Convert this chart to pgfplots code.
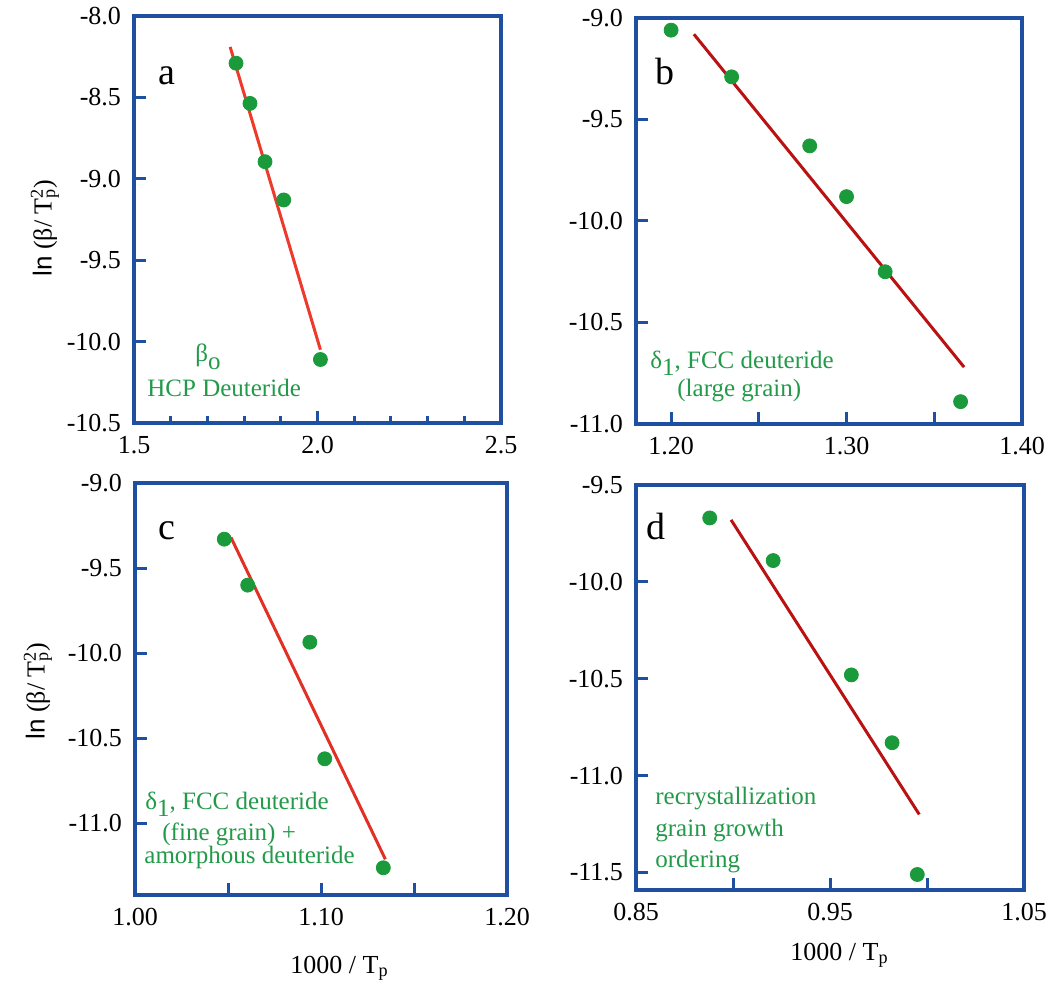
\documentclass[border=0pt]{standalone}
\usepackage{pgfplots}
\pgfplotsset{compat=1.18}
\usepackage{fontspec}
\setmainfont{Liberation Serif}
\setsansfont{Liberation Sans}
\definecolor{boxblue}{HTML}{1F4FA0}
\definecolor{dotgreen}{HTML}{1A9A3A}
\definecolor{redA}{HTML}{EE3A2A}
\definecolor{redB}{HTML}{BA1212}
\definecolor{txtgreen}{HTML}{23994A}
\pgfplotsset{every tick/.append style={boxblue, line width=1.5pt},
  every major tick/.append style={boxblue, line width=1.5pt},
  every minor tick/.append style={boxblue, line width=1.5pt}}
\pgfplotsset{panel/.style={scale only axis, anchor=south west, clip=false,
  axis line style={draw=boxblue, line width=2pt},
  xtick pos=bottom, ytick pos=left, xtick align=inside, ytick align=inside,
  major tick length=6pt, minor tick length=3.5pt,
  xtick style={boxblue, line width=1.5pt},
  ytick style={boxblue, line width=1.5pt},
  minor tick style={boxblue, line width=1.5pt},
  ticklabel style={font=\fontsize{13}{15}\selectfont},
  xticklabel style={yshift=-3pt}, yticklabel style={xshift=-3pt}},
  dots/.style={only marks, mark=*, mark size=3.5pt, color=dotgreen},
  fitA/.style={no marks, color=redA, line width=1.5pt},
  fitB/.style={no marks, color=redB, line width=1.5pt}}
\newcommand{\gt}{\fontsize{12.5}{14}\selectfont\color{txtgreen}}
\newcommand{\lt}{\fontsize{19}{21}\selectfont}
\newcommand{\ylab}{{\sffamily ln} (β/ T\rlap{\textsuperscript{2}}\textsubscript{p})}
\begin{document}
\begin{tikzpicture}
\path (0pt,0pt) rectangle (529pt,492pt);
% panel a
\begin{axis}[panel, at={(67pt,280.5pt)}, width=183.5pt, height=203.5pt,
  xmin=1.5, xmax=2.5, ymin=-10.5, ymax=-8.0,
  xtick={1.5,2.0,2.5}, xticklabels={1.5,2.0,2.5},
  minor xtick={1.6,1.7,1.8,1.9,2.1,2.2,2.3,2.4},
  ytick={-10.5,-10,-9.5,-9,-8.5,-8}, yticklabels={-10.5,-10.0,-9.5,-9.0,-8.5,-8.0}]
\addplot[fitA] coordinates {(1.762,-8.19) (2.008,-10.05)};
\addplot[dots] coordinates {(1.778,-8.29) (1.816,-8.537) (1.857,-8.895) (1.908,-9.13) (2.008,-10.11)};
\end{axis}
% panel b
\begin{axis}[panel, at={(318pt,280pt)}, width=193pt, height=203pt,
  xmin=1.18, xmax=1.40, ymin=-11.0, ymax=-9.0,
  xtick={1.2,1.25,1.3,1.35,1.4}, xticklabels={1.20,,1.30,,1.40},
  ytick={-11,-10.5,-10,-9.5,-9}, yticklabels={-11.0,-10.5,-10.0,-9.5,-9.0}]
\addplot[fitB] coordinates {(1.213,-9.08) (1.367,-10.72)};
\addplot[dots] coordinates {(1.20,-9.06) (1.2345,-9.29) (1.279,-9.63) (1.30,-9.88) (1.322,-10.25) (1.365,-10.89)};
\end{axis}
% panel c
\begin{axis}[panel, at={(67.5pt,44.5pt)}, width=186pt, height=206pt,
  xmin=1.0, xmax=1.2, ymin=-11.42, ymax=-9.0,
  xtick={1.0,1.05,1.1,1.15,1.2}, xticklabels={1.00,,1.10,,1.20},
  ytick={-11,-10.5,-10,-9.5,-9}, yticklabels={-11.0,-10.5,-10.0,-9.5,-9.0}]
\addplot[fitB, color=redA!75!redB] coordinates {(1.0516,-9.32) (1.1346,-11.21)};
\addplot[dots] coordinates {(1.048,-9.33) (1.0606,-9.60) (1.094,-9.935) (1.102,-10.62) (1.1335,-11.26)};
\end{axis}
% panel d
\begin{axis}[panel, at={(318pt,47pt)}, width=194pt, height=202.5pt,
  xmin=0.85, xmax=1.05, ymin=-11.59, ymax=-9.5,
  xtick={0.85,0.9,0.95,1.0,1.05}, xticklabels={0.85,,0.95,,1.05},
  ytick={-11.5,-11,-10.5,-10,-9.5}, yticklabels={-11.5,-11.0,-10.5,-10.0,-9.5}]
\addplot[fitB] coordinates {(0.899,-9.68) (0.996,-11.2)};
\addplot[dots] coordinates {(0.888,-9.67) (0.9207,-9.89) (0.961,-10.48) (0.982,-10.83) (0.995,-11.51)};
\end{axis}
% panel letters
\node[anchor=base west, inner sep=0pt] at (79pt,449.5pt) {\lt a};
\node[anchor=base west, inner sep=0pt] at (327.5pt,449.5pt) {\lt b};
\node[anchor=base west, inner sep=0pt] at (79pt,222pt) {\lt c};
\node[anchor=base west, inner sep=0pt] at (323pt,222pt) {\lt d};
% green annotations
\node[anchor=base west, inner sep=0pt] at (97.5pt,311pt) {\gt β\raisebox{-4pt}{o}};
\node[anchor=base west, inner sep=0pt] at (73.5pt,293.5pt) {\gt HCP Deuteride};
\node[anchor=base west, inner sep=0pt] at (325pt,307.5pt) {\gt δ\raisebox{-3.5pt}{1}, FCC deuteride};
\node[anchor=base west, inner sep=0pt] at (338.5pt,293.5pt) {\gt (large grain)};
\node[anchor=base west, inner sep=0pt] at (72.5pt,87pt) {\gt δ\raisebox{-3.5pt}{1}, FCC deuteride};
\node[anchor=base west, inner sep=0pt] at (81pt,72pt) {\gt (fine grain) +};
\node[anchor=base west, inner sep=0pt] at (72pt,60.5pt) {\gt amorphous deuteride};
\node[anchor=base west, inner sep=0pt] at (327.5pt,89.5pt) {\gt recrystallization};
\node[anchor=base west, inner sep=0pt] at (327.5pt,74pt) {\gt grain growth};
\node[anchor=base west, inner sep=0pt] at (327.5pt,58.5pt) {\gt ordering};
% axis labels
\node[rotate=90, font=\fontsize{13}{15}\selectfont] at (22.5pt,378pt) {\ylab};
\node[rotate=90, font=\fontsize{13}{15}\selectfont] at (19pt,146.5pt) {\ylab};
\node[anchor=base west, inner sep=0pt, font=\fontsize{13}{15}\selectfont] at (145pt,5.5pt) {1000 / T\textsubscript{p}};
\node[anchor=base west, inner sep=0pt, font=\fontsize{13}{15}\selectfont] at (395pt,12pt) {1000 / T\textsubscript{p}};
\end{tikzpicture}
\end{document}
